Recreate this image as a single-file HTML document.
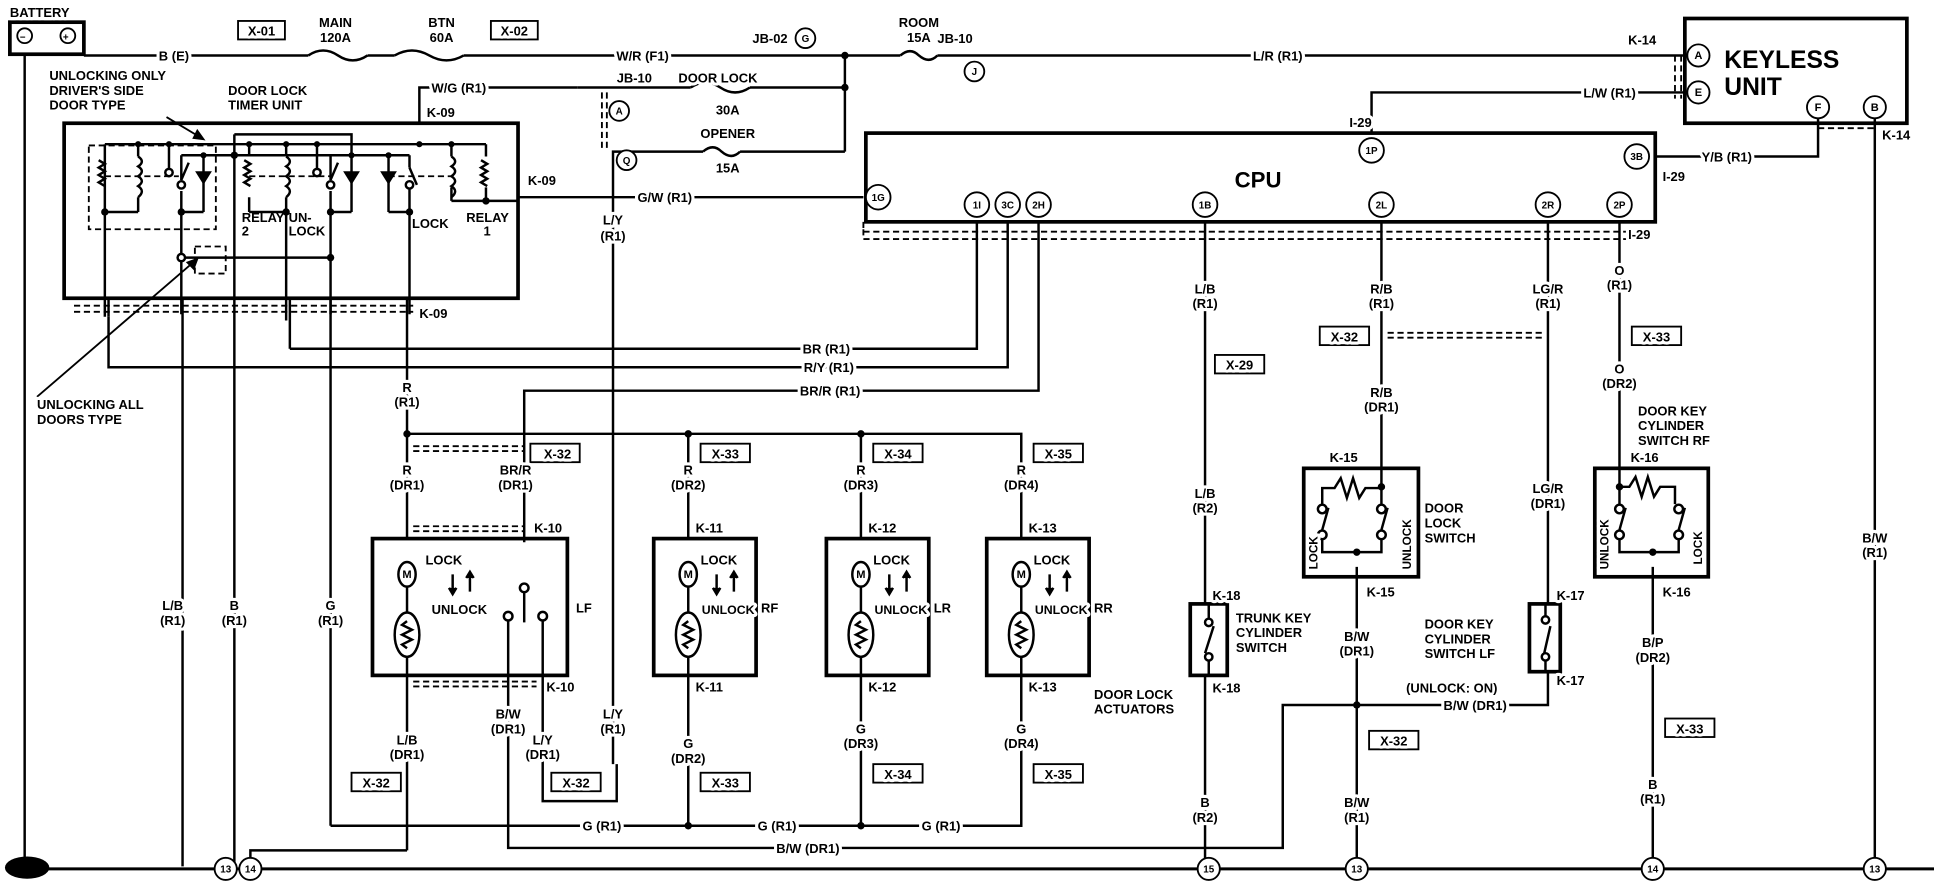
<!DOCTYPE html>
<html><head><meta charset="utf-8"><style>
html,body{margin:0;padding:0;background:#fff;}
svg{display:block}
text{font-family:"Liberation Sans",sans-serif;font-size:10.5px;font-weight:bold;fill:#000;stroke:#fff;stroke-width:5px;paint-order:stroke;stroke-linejoin:round}
.t{text-anchor:middle}
.big{font-size:20px}
.n{font-size:8px;stroke:none}
</style></head><body>
<svg width="1934" height="896" viewBox="0 0 1568 727" preserveAspectRatio="none" xmlns="http://www.w3.org/2000/svg">
<g fill="none" stroke="#000" stroke-width="2">
<rect x="8" y="18" width="60" height="26" stroke-width="3"/>
<line x1="20" y1="44" x2="20" y2="705"/>
<line x1="20" y1="705" x2="1568" y2="705" stroke-width="2.5"/>
<polyline points="68,45 250,45"/>
<path d="M250,45 q12,-8 24,0 q12,8 24,0"/><polyline points="298,45 320,45"/>
<path d="M320,45 q14,-8 28,0 q14,8 28,0"/>
<polyline points="376,45 730,45"/>
<path d="M730,45 q8,-7 15,0 q8,7 15,0"/><polyline points="760,45 1366,45"/>
<line x1="685" y1="45" x2="685" y2="123"/>
<polyline points="468,71 560,71"/><path d="M560,71 q12,-8 24,0 q12,8 24,0"/><polyline points="608,71 685,71"/>
<polyline points="497,620 497,123 570,123"/><path d="M570,123 q8,-7 15,0 q8,7 15,0"/><polyline points="600,123 685,123"/>
<polyline points="340,100 340,71 468,71"/>
<rect x="1366" y="15" width="180" height="85" stroke-width="3"/>
<polyline points="1112,108 1112,75 1366,75"/>
<polyline points="1474,95 1474,127 1342,127"/>
<line x1="1520" y1="95" x2="1520" y2="705"/>
<rect x="702" y="108" width="640" height="72" stroke-width="3"/>
<rect x="52" y="100" width="368" height="142" stroke-width="3"/>
<polyline points="85,117 394,117"/>
<polyline points="147,126 332,126"/>
<polyline points="190,109 285,109 285,126"/>
<line x1="190" y1="109" x2="190" y2="705"/>
<path d="M85,117 v140 M112,117 v10 M112,160 v12 M85,172 h27 M137,117 v20 M147,155 v100 M147,126 v20 M165,126 v46 M147,172 h18
M202,117 v10 M202,160 v12 M232,117 v10 M232,160 v100 M202,172 h30 M257,117 v20 M268,126 v20 M268,155 v100 M285,126 v46 M268,172 h17
M315,126 v46 M332,126 v10 M332,150 v105 M315,172 h17 M366,117 v10 M366,152 v11 M394,117 v10 M394,152 v11 M366,163 h54 M147,209 h121 M88,242 v15"/>
<path d="M80,130 l5,3 l-5,3 l5,3 l-5,3 l5,3 l-5,3 l5,3 M198,130 l5,3 l-5,3 l5,3 l-5,3 l5,3 l-5,3 l5,3 M390,130 l5,3 l-5,3 l5,3 l-5,3 l5,3 l-5,3 l5,3"/>
<path d="M112,127 q6,4 0,8 q6,4 0,8 q6,4 0,8 q6,4 0,9 M232,127 q6,4 0,8 q6,4 0,8 q6,4 0,8 q6,4 0,9 M366,127 q6,4 0,8 q6,4 0,8 q6,4 0,8 q6,4 0,9"/>
<path d="M147,146 l6,-14 M268,146 l6,-14 M332,136 l6,14"/>
<path d="M160,140 h10 l-5,8 z M280,140 h10 l-5,8 z M310,140 h10 l-5,8 z" fill="#000"/>
<line x1="235" y1="242" x2="235" y2="283"/>
<polyline points="235,283 792,283 792,180"/>
<polyline points="88,257 88,298 817,298 817,180"/>
<polyline points="425,440 425,317 842,317 842,180"/>
<line x1="268" y1="242" x2="268" y2="670"/>
<line x1="330" y1="242" x2="330" y2="437"/>
<line x1="420" y1="160" x2="700" y2="160"/>
<polyline points="330,352 828,352 828,437"/>
<line x1="558" y1="352" x2="558" y2="437"/><line x1="698" y1="352" x2="698" y2="437"/>
<rect x="302" y="437" width="158" height="111" stroke-width="3"/>
<rect x="530" y="437" width="83" height="111" stroke-width="3"/>
<rect x="670" y="437" width="83" height="111" stroke-width="3"/>
<rect x="800" y="437" width="83" height="111" stroke-width="3"/>
<g>
<ellipse cx="330" cy="466" rx="7" ry="10"/><ellipse cx="330" cy="515" rx="10" ry="18"/><line x1="330" y1="476" x2="330" y2="497"/>
<ellipse cx="558" cy="466" rx="7" ry="10"/><ellipse cx="558" cy="515" rx="10" ry="18"/><line x1="558" y1="476" x2="558" y2="497"/>
<ellipse cx="698" cy="466" rx="7" ry="10"/><ellipse cx="698" cy="515" rx="10" ry="18"/><line x1="698" y1="476" x2="698" y2="497"/>
<ellipse cx="828" cy="466" rx="7" ry="10"/><ellipse cx="828" cy="515" rx="10" ry="18"/><line x1="828" y1="476" x2="828" y2="497"/>
<path d="M330,504 l-4,3 l8,4 l-8,4 l8,4 l-8,4 l4,3 M558,504 l-4,3 l8,4 l-8,4 l8,4 l-8,4 l4,3 M698,504 l-4,3 l8,4 l-8,4 l8,4 l-8,4 l4,3 M828,504 l-4,3 l8,4 l-8,4 l8,4 l-8,4 l4,3"/>
<path d="M367,466 v14 M381,466 v14 M581,466 v14 M595,466 v14 M721,466 v14 M735,466 v14 M851,466 v14 M865,466 v14"/>
<path d="M364,477 l3,5 l3,-5 M378,469 l3,-5 l3,5 M578,477 l3,5 l3,-5 M592,469 l3,-5 l3,5 M718,477 l3,5 l3,-5 M732,469 l3,-5 l3,5 M848,477 l3,5 l3,-5 M862,469 l3,-5 l3,5" fill="#000"/>
<circle cx="425" cy="477" r="3.5"/><line x1="425" y1="481" x2="425" y2="505"/>
<circle cx="412" cy="500" r="3.5"/><circle cx="440" cy="500" r="3.5"/>
</g>
<line x1="330" y1="533" x2="330" y2="690"/>
<polyline points="330,690 203,690 203,700"/>
<line x1="148" y1="242" x2="148" y2="703"/>
<line x1="558" y1="533" x2="558" y2="670"/>
<line x1="698" y1="533" x2="698" y2="670"/>
<polyline points="828,533 828,670 790,670"/>
<polyline points="268,670 828,670"/>
<polyline points="412,504 412,688 1040,688 1040,572 1255,572 1255,545"/>
<polyline points="440,504 440,650 500,650 500,620"/>
<line x1="977" y1="180" x2="977" y2="490"/><line x1="977" y1="548" x2="977" y2="700"/>
<line x1="1120" y1="180" x2="1120" y2="395"/><line x1="1100" y1="460" x2="1100" y2="700"/>
<line x1="1255" y1="180" x2="1255" y2="490"/>
<line x1="1313" y1="180" x2="1313" y2="395"/><line x1="1340" y1="460" x2="1340" y2="700"/>
<rect x="965" y="490" width="30" height="58" stroke-width="3"/>
<rect x="1057" y="380" width="93" height="88" stroke-width="3"/>
<rect x="1240" y="490" width="25" height="55" stroke-width="3"/>
<rect x="1293" y="380" width="92" height="88" stroke-width="3"/>
<path d="M980,490 v12 M980,536 v12 M977,530 l7,-22"/>
<path d="M1253,490 v10 M1253,536 v9 M1252,530 l5,-22"/>
<path d="M1072,410 v-14 h10 l5,-8 l5,16 l5,-16 l5,16 l5,-8 h13 M1120,395 v15 M1072,430 l5,-18 M1120,430 l5,-18 M1072,438 v10 h48 v-10"/>
<path d="M1313,395 h8 l5,-8 l5,16 l5,-16 l5,16 l5,-8 h12 v14 M1313,395 v15 M1313,430 l5,-18 M1361,430 l5,-18 M1313,438 v10 h48 v-10"/>
<g fill="#fff"><circle cx="1072" cy="413" r="3.5"/><circle cx="1120" cy="413" r="3.5"/><circle cx="1072" cy="434" r="3.5"/><circle cx="1120" cy="434" r="3.5"/>
<circle cx="1313" cy="413" r="3.5"/><circle cx="1361" cy="413" r="3.5"/><circle cx="1313" cy="434" r="3.5"/><circle cx="1361" cy="434" r="3.5"/>
<circle cx="980" cy="505" r="3"/><circle cx="980" cy="533" r="3"/><circle cx="1253" cy="503" r="3"/><circle cx="1253" cy="533" r="3"/>
<circle cx="137" cy="140" r="3"/><circle cx="257" cy="140" r="3"/><circle cx="147" cy="150" r="3"/><circle cx="268" cy="150" r="3"/><circle cx="332" cy="150" r="3"/><circle cx="147" cy="209" r="3"/></g>
</g>
<g fill="none" stroke="#000" stroke-width="1.5" stroke-dasharray="5,3">
<rect x="72" y="118" width="103" height="68"/>
<rect x="158" y="200" width="25" height="22"/>
<line x1="60" y1="248" x2="335" y2="248"/><line x1="60" y1="253" x2="335" y2="253"/>
<path d="M700,180 v8 h620 M700,186 v8 h622"/>
<path d="M1358,45 v35 M1363,45 v35 M1474,100 h46 M1474,104 h46"/>
<path d="M488,75 v48 M492,75 v48"/>
<path d="M335,362 h90 M335,366 h90 M335,427 h90 M335,431 h90 M335,553 h100 M335,557 h100"/>
<path d="M1125,270 h125 M1125,274 h125"/>
<path d="M85,143 h60 M202,143 h66 M315,143 h51"/>
</g>
<path d="M135,95 l30,18 M165,113 l-8,-1 l3,-6 z M30,322 l130,-112 M160,210 l-3,8 l-5,-5 z" stroke="#000" stroke-width="1.5" fill="#000"/>
<g fill="#000">
<circle cx="685" cy="45" r="3"/><circle cx="685" cy="71" r="3"/><circle cx="330" cy="352" r="3"/><circle cx="558" cy="352" r="3"/><circle cx="698" cy="352" r="3"/>
<circle cx="558" cy="670" r="3"/><circle cx="698" cy="670" r="3"/><circle cx="1100" cy="572" r="3"/><circle cx="268" cy="209" r="3"/><circle cx="190" cy="126" r="3"/>
<circle cx="1100" cy="448" r="3"/><circle cx="1340" cy="448" r="3"/><circle cx="1120" cy="395" r="3"/><circle cx="1313" cy="395" r="3"/>
<circle cx="85" cy="172" r="3"/><circle cx="147" cy="172" r="3"/><circle cx="232" cy="172" r="3"/><circle cx="268" cy="172" r="3"/><circle cx="332" cy="172" r="3"/><circle cx="394" cy="163" r="3"/>
<circle cx="112" cy="117" r="2.5"/><circle cx="137" cy="117" r="2.5"/><circle cx="202" cy="117" r="2.5"/><circle cx="232" cy="117" r="2.5"/><circle cx="257" cy="117" r="2.5"/><circle cx="340" cy="117" r="2.5"/><circle cx="366" cy="117" r="2.5"/><circle cx="285" cy="126" r="2.5"/><circle cx="165" cy="126" r="2.5"/><circle cx="315" cy="126" r="2.5"/>
</g>
<g fill="#fff" stroke="#000" stroke-width="1.5">
<circle cx="20" cy="29" r="6"/><circle cx="55" cy="29" r="6"/>
<circle cx="653" cy="31" r="8"/><circle cx="790" cy="58" r="8"/><circle cx="502" cy="90" r="8"/><circle cx="508" cy="130" r="8"/>
<circle cx="1377" cy="45" r="9"/><circle cx="1377" cy="75" r="9"/><circle cx="1474" cy="87" r="9"/><circle cx="1520" cy="87" r="9"/>
<circle cx="1112" cy="122" r="10"/><circle cx="1327" cy="127" r="10"/>
<circle cx="712" cy="160" r="10"/><circle cx="792" cy="166" r="10"/><circle cx="817" cy="166" r="10"/><circle cx="842" cy="166" r="10"/>
<circle cx="977" cy="166" r="10"/><circle cx="1120" cy="166" r="10"/><circle cx="1255" cy="166" r="10"/><circle cx="1313" cy="166" r="10"/>
<circle cx="183" cy="705" r="9"/><circle cx="203" cy="705" r="9"/><circle cx="980" cy="705" r="9"/><circle cx="1100" cy="705" r="9"/><circle cx="1340" cy="705" r="9"/><circle cx="1520" cy="705" r="9"/>
</g>
<ellipse cx="22" cy="704" rx="18" ry="9" fill="#000"/>
<g fill="#fff" stroke="#000" stroke-width="1.5">
<rect x="193" y="17" width="38" height="15"/><rect x="398" y="17" width="38" height="15"/>
<rect x="430" y="360" width="40" height="15"/><rect x="568" y="360" width="40" height="15"/><rect x="708" y="360" width="40" height="15"/><rect x="838" y="360" width="40" height="15"/>
<rect x="285" y="627" width="40" height="15"/><rect x="447" y="627" width="40" height="15"/><rect x="568" y="627" width="40" height="15"/><rect x="708" y="620" width="40" height="15"/><rect x="838" y="620" width="40" height="15"/>
<rect x="985" y="288" width="40" height="15"/><rect x="1070" y="265" width="40" height="15"/><rect x="1323" y="265" width="40" height="15"/><rect x="1110" y="593" width="40" height="15"/><rect x="1350" y="583" width="40" height="15"/>
</g>
<text x="8" y="14">BATTERY</text>
<text x="16" y="33" class="n">−</text><text x="51" y="33" class="n">+</text>
<text class="t" x="141" y="49">B (E)</text>
<text class="t" x="212" y="29">X-01</text><text class="t" x="417" y="29">X-02</text>
<text class="t" x="272" y="22">MAIN</text><text class="t" x="272" y="34">120A</text>
<text class="t" x="358" y="22">BTN</text><text class="t" x="358" y="34">60A</text>
<text class="t" x="521" y="49">W/R (F1)</text>
<text x="610" y="35">JB-02</text><text class="t n" x="653" y="34">G</text>
<text class="t" x="745" y="22">ROOM</text><text class="t" x="745" y="34">15A</text>
<text x="760" y="35">JB-10</text><text class="t n" x="790" y="61">J</text>
<text class="t" x="1036" y="49">L/R (R1)</text>
<text x="1320" y="36">K-14</text>
<text class="t n" x="1377" y="48" style="font-size:9px">A</text><text class="t n" x="1377" y="78" style="font-size:9px">E</text>
<text class="t n" x="1474" y="90" style="font-size:9px">F</text><text class="t n" x="1520" y="90" style="font-size:9px">B</text>
<text x="1398" y="55" class="big">KEYLESS</text><text x="1398" y="77" class="big">UNIT</text>
<text class="t" x="1305" y="79">L/W (R1)</text>
<text x="1094" y="103">I-29</text><text class="t n" x="1112" y="125">1P</text>
<text class="t n" x="1327" y="130">3B</text><text x="1526" y="113">K-14</text>
<text class="t" x="1400" y="131">Y/B (R1)</text><text x="1348" y="147">I-29</text>
<text class="t" x="1020" y="152" style="font-size:18px">CPU</text>
<text class="t n" x="712" y="163">1G</text><text class="t n" x="792" y="169">1I</text><text class="t n" x="817" y="169">3C</text><text class="t n" x="842" y="169">2H</text>
<text class="t n" x="977" y="169">1B</text><text class="t n" x="1120" y="169">2L</text><text class="t n" x="1255" y="169">2R</text><text class="t n" x="1313" y="169">2P</text>
<text x="1320" y="194">I-29</text>
<text x="40" y="65">UNLOCKING ONLY</text><text x="40" y="77">DRIVER'S SIDE</text><text x="40" y="89">DOOR TYPE</text>
<text x="185" y="77">DOOR LOCK</text><text x="185" y="89">TIMER UNIT</text>
<text class="t" x="372" y="75">W/G (R1)</text><text x="346" y="95">K-09</text>
<text x="500" y="67">JB-10</text><text x="550" y="67">DOOR LOCK</text><text class="t" x="590" y="93">30A</text>
<text class="t" x="590" y="112">OPENER</text><text class="t" x="590" y="140">15A</text>
<text class="t n" x="502" y="93">A</text><text class="t n" x="508" y="133">Q</text>
<text x="428" y="150">K-09</text><text class="t" x="539" y="164">G/W (R1)</text>
<text class="t" x="497" y="182">L/Y</text><text class="t" x="497" y="195">(R1)</text>
<text x="196" y="180" style="stroke:none">RELAY</text><text x="196" y="191" style="stroke:none">2</text><text x="234" y="180" style="stroke:none">UN-</text><text x="234" y="191" style="stroke:none">LOCK</text>
<text x="334" y="185" style="stroke:none">LOCK</text><text x="378" y="180" style="stroke:none">RELAY</text><text x="392" y="191" style="stroke:none">1</text>
<text x="340" y="258">K-09</text>
<text class="t" x="670" y="287">BR (R1)</text><text class="t" x="672" y="302">R/Y (R1)</text><text class="t" x="673" y="321">BR/R (R1)</text>
<text x="30" y="332">UNLOCKING ALL</text><text x="30" y="344">DOORS TYPE</text>
<text class="t" x="330" y="318">R</text><text class="t" x="330" y="330">(R1)</text>
<text class="t" x="452" y="372">X-32</text><text class="t" x="588" y="372">X-33</text><text class="t" x="728" y="372">X-34</text><text class="t" x="858" y="372">X-35</text>
<text class="t" x="330" y="385">R</text><text class="t" x="330" y="397">(DR1)</text><text class="t" x="418" y="385">BR/R</text><text class="t" x="418" y="397">(DR1)</text>
<text class="t" x="558" y="385">R</text><text class="t" x="558" y="397">(DR2)</text><text class="t" x="698" y="385">R</text><text class="t" x="698" y="397">(DR3)</text><text class="t" x="828" y="385">R</text><text class="t" x="828" y="397">(DR4)</text>
<text x="433" y="432">K-10</text><text x="564" y="432">K-11</text><text x="704" y="432">K-12</text><text x="834" y="432">K-13</text>
<text x="345" y="458">LOCK</text><text x="350" y="498">UNLOCK</text><text x="467" y="497">LF</text>
<text x="568" y="458">LOCK</text><text x="569" y="498" style="font-size:10px">UNLOCK</text><text x="617" y="497">RF</text>
<text x="708" y="458">LOCK</text><text x="709" y="498" style="font-size:10px">UNLOCK</text><text x="757" y="497">LR</text>
<text x="838" y="458">LOCK</text><text x="839" y="498" style="font-size:10px">UNLOCK</text><text x="887" y="497">RR</text>
<text class="t n" x="330" y="469" style="font-size:9px">M</text><text class="t n" x="558" y="469" style="font-size:9px">M</text><text class="t n" x="698" y="469" style="font-size:9px">M</text><text class="t n" x="828" y="469" style="font-size:9px">M</text>
<text x="443" y="561">K-10</text><text x="564" y="561">K-11</text><text x="704" y="561">K-12</text><text x="834" y="561">K-13</text>
<text x="887" y="567">DOOR LOCK</text><text x="887" y="579">ACTUATORS</text>
<text class="t" x="140" y="495">L/B</text><text class="t" x="140" y="507">(R1)</text><text class="t" x="190" y="495">B</text><text class="t" x="190" y="507">(R1)</text><text class="t" x="268" y="495">G</text><text class="t" x="268" y="507">(R1)</text>
<text class="t" x="330" y="604">L/B</text><text class="t" x="330" y="616">(DR1)</text><text class="t" x="412" y="583">B/W</text><text class="t" x="412" y="595">(DR1)</text>
<text class="t" x="440" y="604">L/Y</text><text class="t" x="440" y="616">(DR1)</text><text class="t" x="497" y="583">L/Y</text><text class="t" x="497" y="595">(R1)</text>
<text class="t" x="558" y="607">G</text><text class="t" x="558" y="619">(DR2)</text><text class="t" x="698" y="595">G</text><text class="t" x="698" y="607">(DR3)</text><text class="t" x="828" y="595">G</text><text class="t" x="828" y="607">(DR4)</text>
<text class="t" x="305" y="639">X-32</text><text class="t" x="467" y="639">X-32</text><text class="t" x="588" y="639">X-33</text><text class="t" x="728" y="632">X-34</text><text class="t" x="858" y="632">X-35</text>
<text class="t" x="488" y="674">G (R1)</text><text class="t" x="630" y="674">G (R1)</text><text class="t" x="763" y="674">G (R1)</text><text class="t" x="655" y="692">B/W (DR1)</text>
<text class="t" x="977" y="238">L/B</text><text class="t" x="977" y="250">(R1)</text><text class="t" x="1005" y="300">X-29</text>
<text class="t" x="977" y="404">L/B</text><text class="t" x="977" y="416">(R2)</text><text x="983" y="487">K-18</text>
<text x="1002" y="505">TRUNK KEY</text><text x="1002" y="517">CYLINDER</text><text x="1002" y="529">SWITCH</text><text x="983" y="562">K-18</text>
<text class="t" x="977" y="655">B</text><text class="t" x="977" y="667">(R2)</text>
<text class="t" x="1120" y="238">R/B</text><text class="t" x="1120" y="250">(R1)</text><text class="t" x="1090" y="277">X-32</text>
<text class="t" x="1120" y="322">R/B</text><text class="t" x="1120" y="334">(DR1)</text><text x="1078" y="375">K-15</text>
<text x="1155" y="416">DOOR</text><text x="1155" y="428">LOCK</text><text x="1155" y="440">SWITCH</text>
<text transform="translate(1068,462) rotate(-90)" style="font-size:9.5px">LOCK</text>
<text transform="translate(1144,462) rotate(-90)" style="font-size:9.5px">UNLOCK</text>
<text transform="translate(1304,462) rotate(-90)" style="font-size:9.5px">UNLOCK</text>
<text transform="translate(1380,458) rotate(-90)" style="font-size:9.5px">LOCK</text>
<text x="1108" y="484">K-15</text><text class="t" x="1100" y="520">B/W</text><text class="t" x="1100" y="532">(DR1)</text>
<text class="t" x="1130" y="605">X-32</text><text class="t" x="1100" y="655">B/W</text><text class="t" x="1100" y="667">(R1)</text>
<text class="t" x="1196" y="576">B/W (DR1)</text><text x="1140" y="562">(UNLOCK: ON)</text>
<text x="1155" y="510">DOOR KEY</text><text x="1155" y="522">CYLINDER</text><text x="1155" y="534">SWITCH LF</text>
<text x="1262" y="487">K-17</text><text x="1262" y="556">K-17</text>
<text class="t" x="1255" y="238">LG/R</text><text class="t" x="1255" y="250">(R1)</text><text class="t" x="1255" y="400">LG/R</text><text class="t" x="1255" y="412">(DR1)</text>
<text class="t" x="1313" y="223">O</text><text class="t" x="1313" y="235">(R1)</text><text class="t" x="1343" y="277">X-33</text>
<text class="t" x="1313" y="303">O</text><text class="t" x="1313" y="315">(DR2)</text>
<text x="1328" y="337">DOOR KEY</text><text x="1328" y="349">CYLINDER</text><text x="1328" y="361">SWITCH RF</text><text x="1322" y="375">K-16</text>
<text x="1348" y="484">K-16</text><text class="t" x="1340" y="525">B/P</text><text class="t" x="1340" y="537">(DR2)</text>
<text class="t" x="1370" y="595">X-33</text><text class="t" x="1340" y="640">B</text><text class="t" x="1340" y="652">(R1)</text>
<text class="t" x="1520" y="440">B/W</text><text class="t" x="1520" y="452">(R1)</text>
<text class="t n" x="183" y="708">13</text><text class="t n" x="203" y="708">14</text><text class="t n" x="980" y="708">15</text><text class="t n" x="1100" y="708">13</text><text class="t n" x="1340" y="708">14</text><text class="t n" x="1520" y="708">13</text>
</svg>
</body></html>
